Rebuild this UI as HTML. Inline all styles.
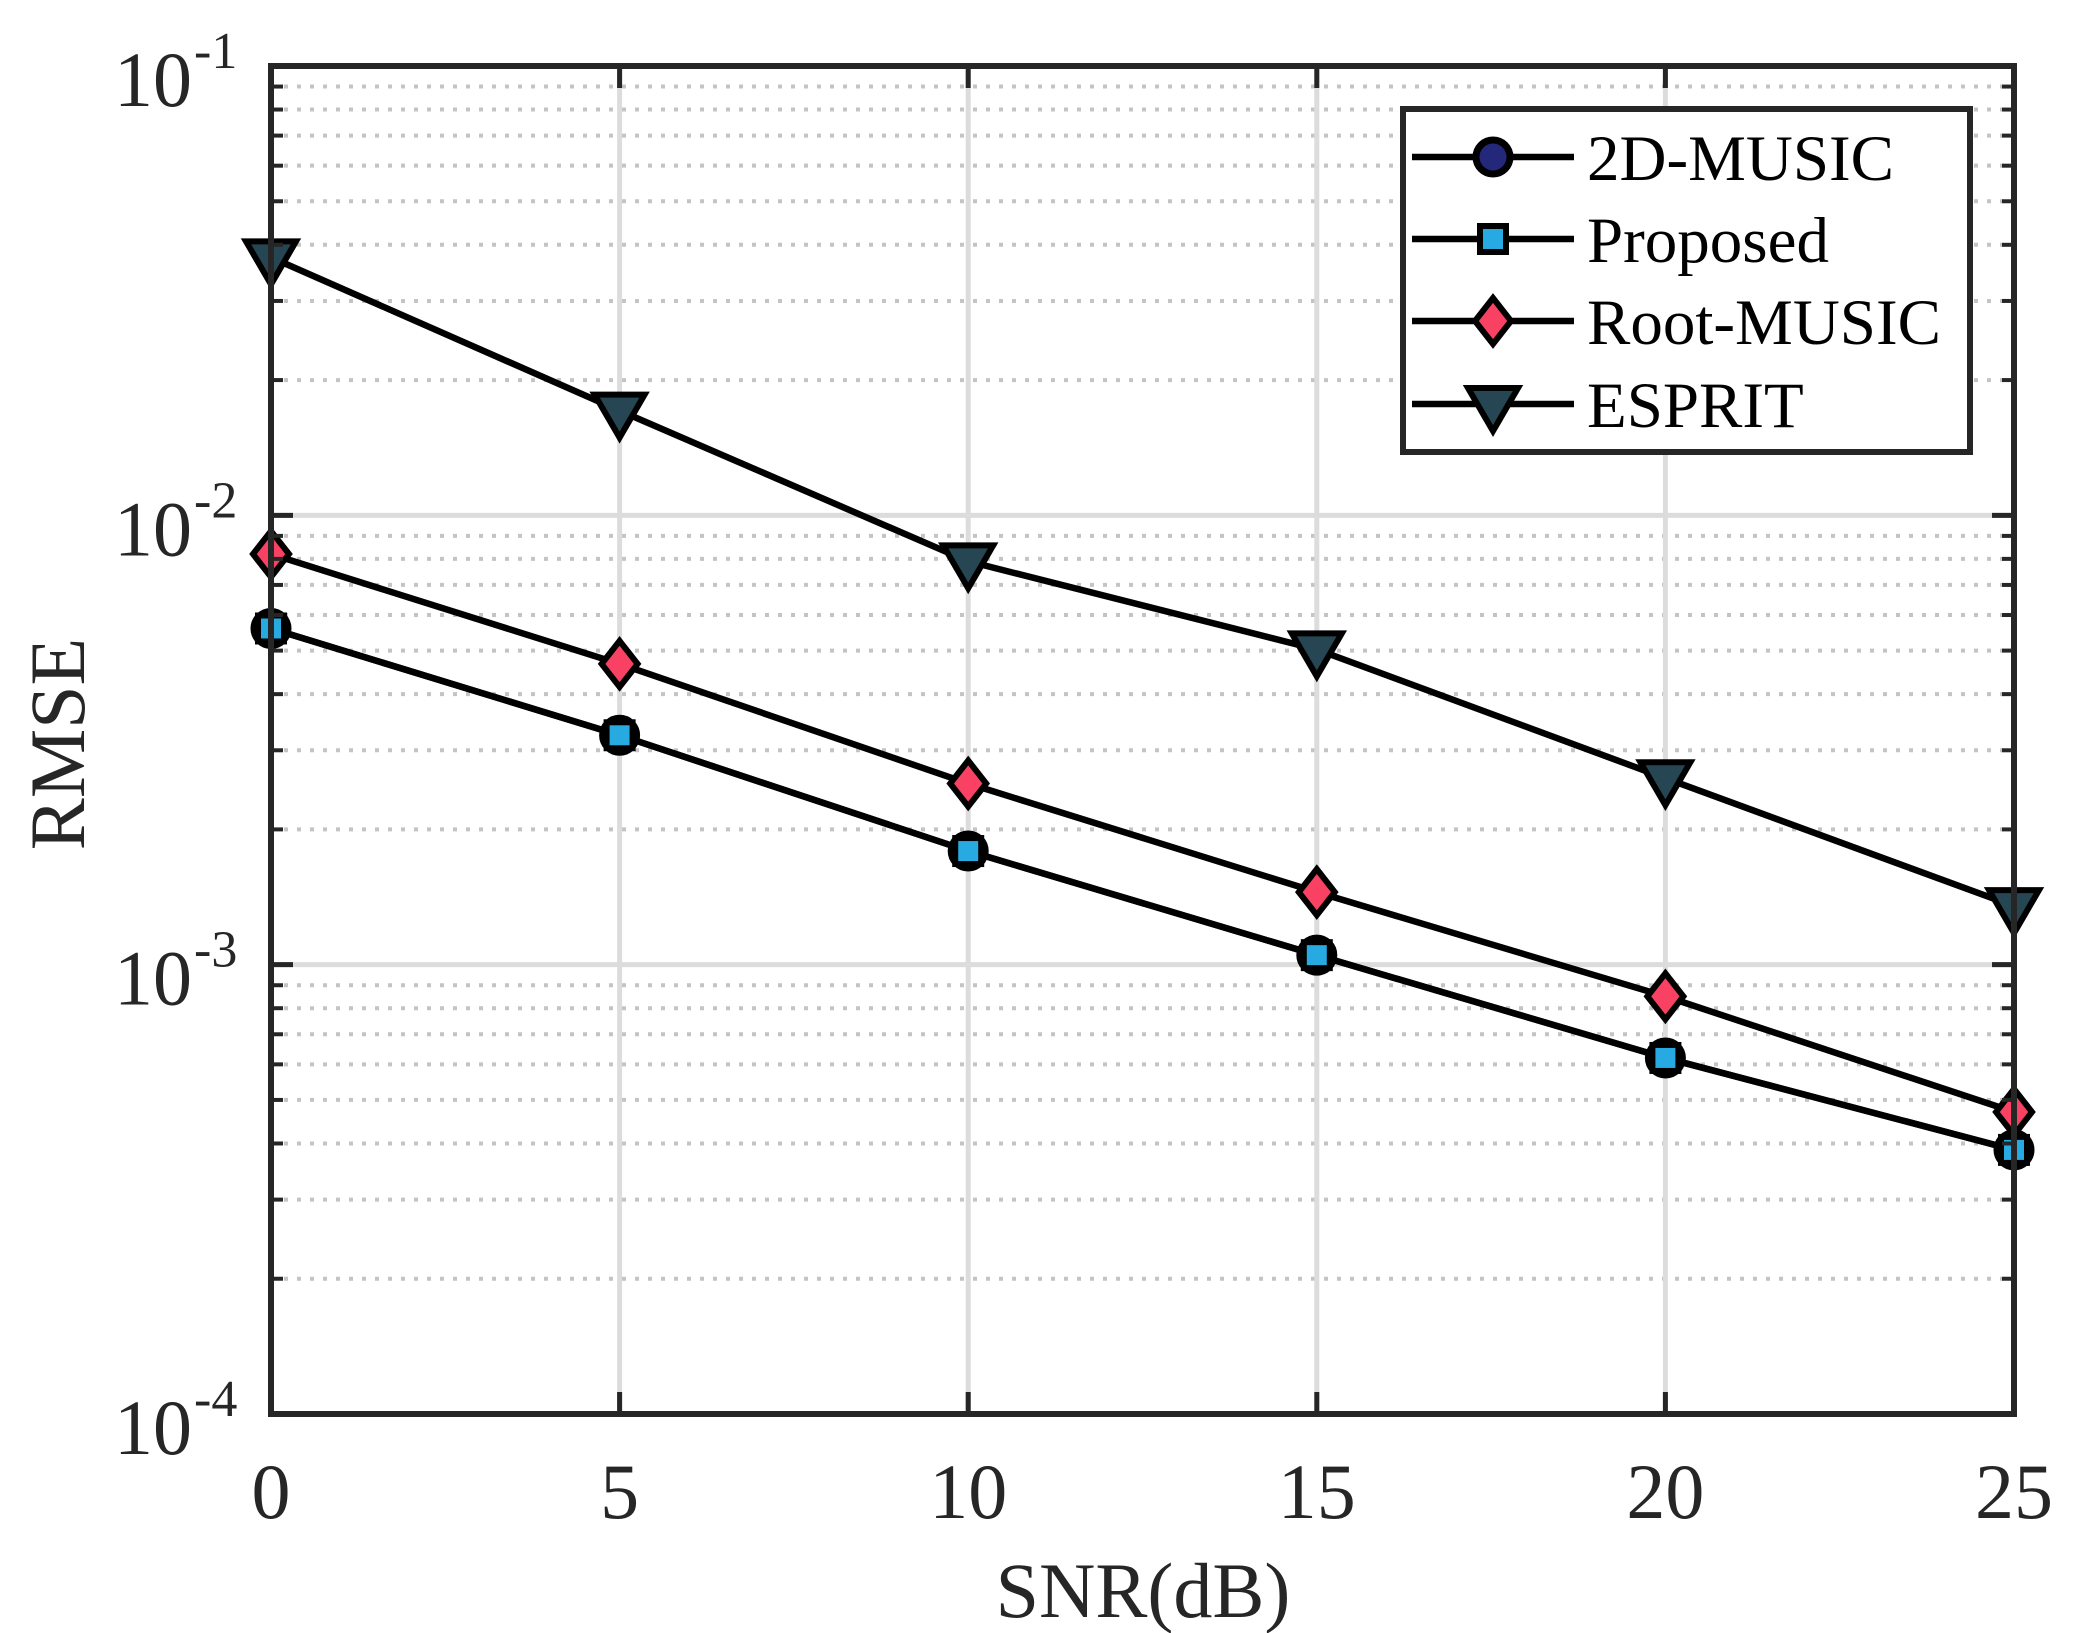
<!DOCTYPE html>
<html><head><meta charset="utf-8"><style>
html,body{margin:0;padding:0;background:#fff;}
svg{display:block;font-family:"Liberation Serif",serif;}
</style></head><body>
<svg id="chart" xmlns="http://www.w3.org/2000/svg" width="2084" height="1633" viewBox="0 0 2084 1633">
<rect x="0" y="0" width="2084" height="1633" fill="#fff"/>
<g id="grid"></g>
<g id="series"></g>
<g id="axes"></g>
<text x="1143" y="1617" font-size="78" text-anchor="middle" fill="#262626">SNR(dB)</text>
<text transform="translate(84,744) rotate(-90)" font-size="78" text-anchor="middle" fill="#262626">RMSE</text>
<g>
<rect x="1403" y="109" width="567" height="343" fill="#fff" stroke="#262626" stroke-width="6"/>
<g id="legend-entries"></g>
</g>
</svg>
<script>
const snr = [0, 5, 10, 15, 20, 25];
const music2d = [0.0056, 0.00324, 0.00179, 0.00105, 0.00062, 0.000387];
const proposed = [0.0056, 0.00324, 0.00179, 0.00105, 0.00062, 0.000387];
const rootMusic = [0.0082, 0.00467, 0.00253, 0.00145, 0.00085, 0.00047];
const esprit = [0.0375, 0.0171, 0.0079, 0.00503, 0.0026, 0.00135];
const xTicks = [0, 5, 10, 15, 20, 25];
const yTickExps = [-1, -2, -3, -4];
const seriesNames = ["2D-MUSIC", "Proposed", "Root-MUSIC", "ESPRIT"];

const NS = "http://www.w3.org/2000/svg";
const L = 271, R = 2014, T = 66, B = 1414;
const xMin = 0, xMax = 25, yMinExp = -4, yMaxExp = -1;
function xs(v){ return L + (v - xMin) / (xMax - xMin) * (R - L); }
function ys(v){ return B - (Math.log10(v) - yMinExp) / (yMaxExp - yMinExp) * (B - T); }
function mk(tag, attrs, parent){
  const e = document.createElementNS(NS, tag);
  for (const k in attrs) e.setAttribute(k, attrs[k]);
  parent.appendChild(e);
  return e;
}
const grid = document.getElementById('grid');
const axes = document.getElementById('axes');
const series = document.getElementById('series');

for (let e = yMinExp; e < yMaxExp; e++) {
  for (let m = 2; m <= 9; m++) {
    const y = ys(m * Math.pow(10, e));
    const g = mk('line', {x1: L, x2: R, y1: y, y2: y, stroke: '#c4c4c4', 'stroke-width': 4, 'stroke-dasharray': '4 9'}, grid);
    
    
    mk('line', {x1: L, x2: L + 12, y1: y, y2: y, stroke: '#262626', 'stroke-width': 4}, axes);
    mk('line', {x1: R - 12, x2: R, y1: y, y2: y, stroke: '#262626', 'stroke-width': 4}, axes);
  }
}
yTickExps.forEach(e => {
  const y = ys(Math.pow(10, e));
  const g = mk('line', {x1: L, x2: R, y1: y, y2: y, stroke: '#dcdcdc', 'stroke-width': 5}, grid);
  
  
  mk('line', {x1: L, x2: L + 22, y1: y, y2: y, stroke: '#262626', 'stroke-width': 5}, axes);
  mk('line', {x1: R - 22, x2: R, y1: y, y2: y, stroke: '#262626', 'stroke-width': 5}, axes);
  const t = mk('text', {x: 192, y: y + 40, 'font-size': 78, 'text-anchor': 'end', fill: '#262626'}, axes);
  t.textContent = '10';
  
  
  const s = mk('text', {x: 194, y: y + 2, 'font-size': 52, 'text-anchor': 'start', fill: '#262626'}, axes);
  s.textContent = '-' + Math.abs(e);
  
  
});
xTicks.forEach(v => {
  const x = xs(v);
  const g = mk('line', {x1: x, x2: x, y1: T, y2: B, stroke: '#dcdcdc', 'stroke-width': 5}, grid);
  
  
  mk('line', {x1: x, x2: x, y1: B - 22, y2: B, stroke: '#262626', 'stroke-width': 5}, axes);
  mk('line', {x1: x, x2: x, y1: T, y2: T + 22, stroke: '#262626', 'stroke-width': 5}, axes);
  const t = mk('text', {x: x, y: 1518, 'font-size': 78, 'text-anchor': 'middle', fill: '#262626'}, axes);
  t.textContent = String(v);
  
  
});
const frame = mk('rect', {x: L, y: T, width: R - L, height: B - T, fill: 'none', stroke: '#262626', 'stroke-width': 6}, axes);



function marker(kind, x, y, parent){
  let e;
  if (kind === 'circle') e = mk('circle', {cx: x, cy: y, r: 17, fill: '#23287a', stroke: '#000', 'stroke-width': 7}, parent);
  else if (kind === 'square') e = mk('rect', {x: x - 13, y: y - 13, width: 26, height: 26, fill: '#27a9e1', stroke: '#000', 'stroke-width': 6}, parent);
  else if (kind === 'diamond') e = mk('polygon', {points: `${x},${y-23} ${x+18},${y} ${x},${y+23} ${x-18},${y}`, fill: '#f94263', stroke: '#000', 'stroke-width': 6}, parent);
  else e = mk('polygon', {points: `${x-25},${y-16} ${x+25},${y-16} ${x},${y+27}`, fill: '#264653', stroke: '#000', 'stroke-width': 6}, parent);
  return e;
}
const defs = [
  {vals: music2d, kind: 'circle', name: 'series-2d-music'},
  {vals: proposed, kind: 'square', name: 'series-proposed'},
  {vals: rootMusic, kind: 'diamond', name: 'series-root-music'},
  {vals: esprit, kind: 'triangle', name: 'series-esprit'}
];
defs.forEach(d => {
  const g = mk('g', {}, series);
  
  
  const pts = snr.map((s, i) => xs(s) + ',' + ys(d.vals[i])).join(' ');
  const pl = mk('polyline', {points: pts, fill: 'none', stroke: '#000', 'stroke-width': 6.5}, g);
  
  
  snr.forEach((s, i) => {
    const m = marker(d.kind, xs(s), ys(d.vals[i]), g);
    
    
  });
});
const le = document.getElementById('legend-entries');
const rowsY = [157, 239, 321, 404];
seriesNames.forEach((n, i) => {
  const g = mk('g', {}, le);
  
  
  mk('line', {x1: 1412, x2: 1574, y1: rowsY[i], y2: rowsY[i], stroke: '#000', 'stroke-width': 6.5}, g);
  marker(defs[i].kind, 1493, rowsY[i], g);
  const t = mk('text', {x: 1587, y: rowsY[i] + 23, 'font-size': 65, fill: '#000'}, g);
  t.textContent = n;
});
</script>
</body></html>
